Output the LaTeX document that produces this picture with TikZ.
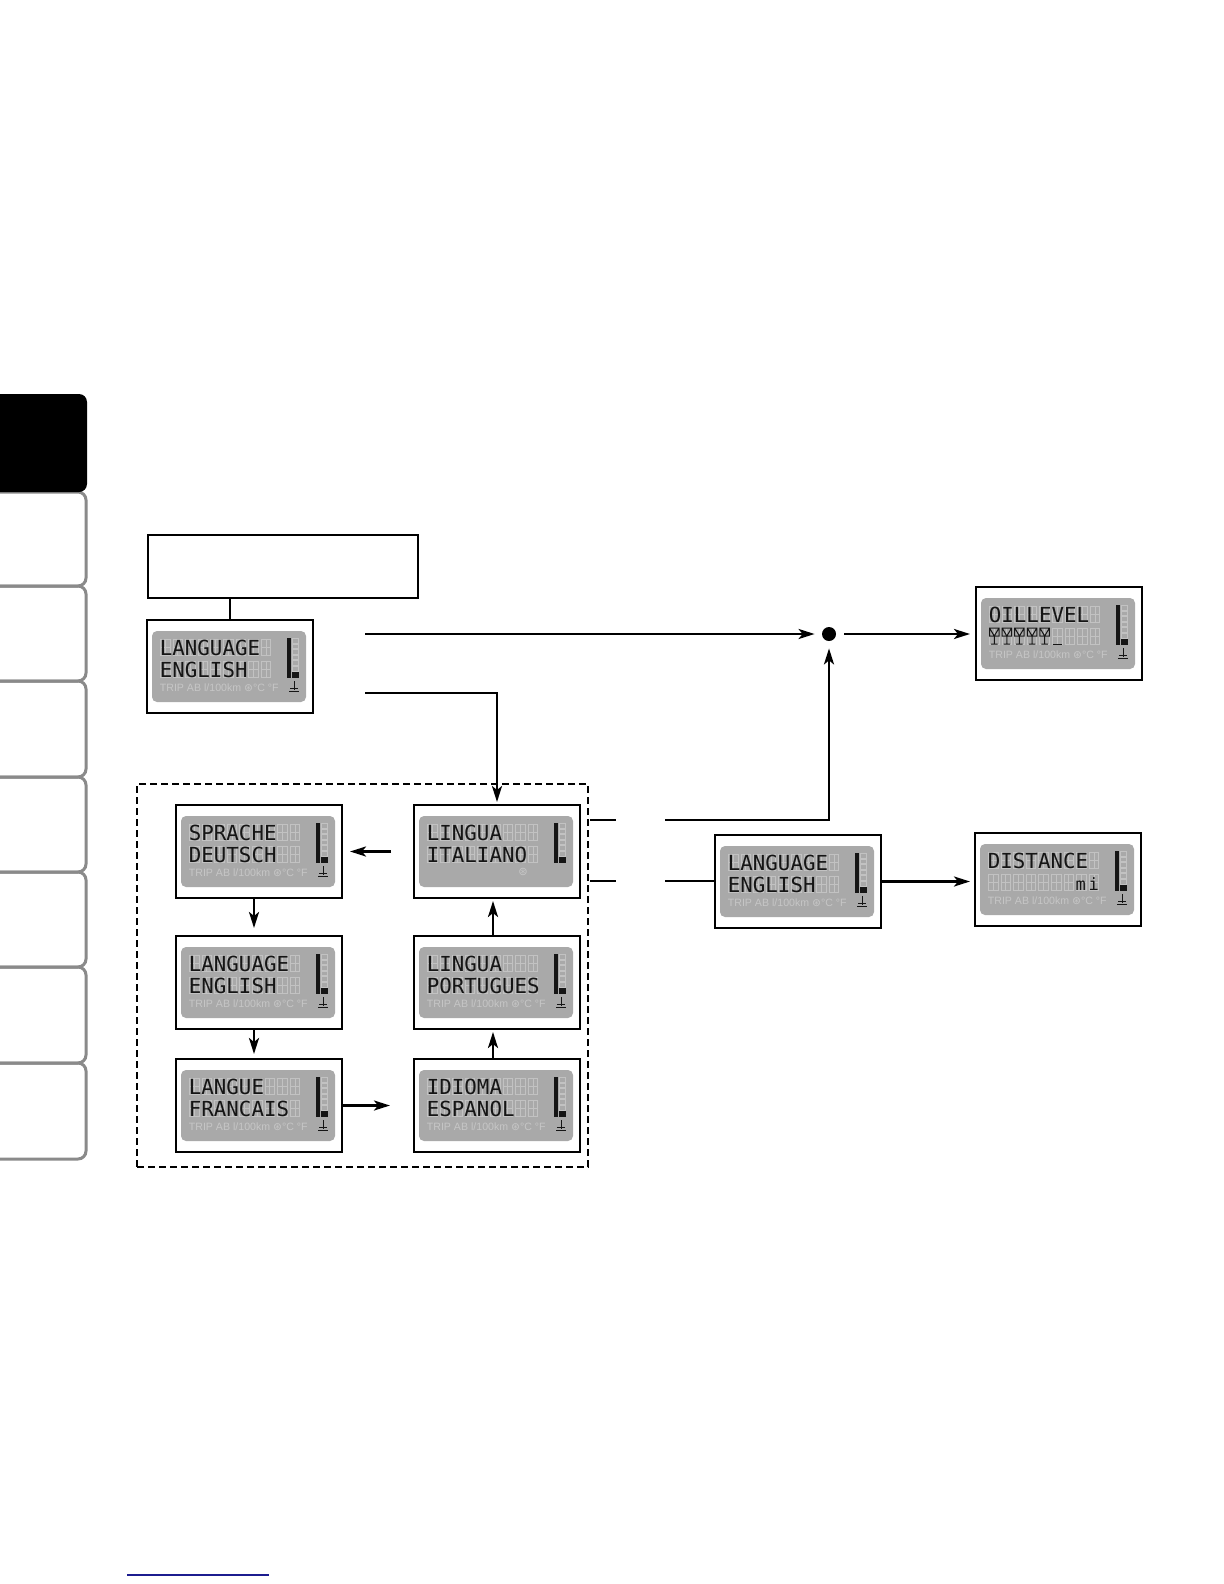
\documentclass[tikz,border=0pt]{standalone}
\usepackage{fontspec}
\usetikzlibrary{arrows.meta}
\newfontfamily\lcdfont{DejaVu Sans Mono}
\newfontfamily\smallfont{Liberation Sans}
\newfontfamily\symfont{DejaVu Sans}
\definecolor{lcdbg}{HTML}{A9A9A9}
\definecolor{ghostc}{HTML}{C2C2C2}
\definecolor{faintc}{HTML}{C6C6C6}
\definecolor{darkc}{HTML}{151515}
\definecolor{tabgray}{HTML}{8A8A8A}
\definecolor{linkblue}{HTML}{1C1C8F}
\tikzset{
 lcdframe/.style={draw, line width=0.85pt, minimum width=83pt, minimum height=46.5pt, inner sep=0pt, outer sep=0pt},
 ghost/.style={draw=ghostc, line width=0.45pt},
 lcdtext/.style={anchor=base west, inner sep=0pt, text=darkc, font=\lcdfont\fontsize{10.4}{10.4}\selectfont},
 faint/.style={inner sep=0pt, text=faintc, font=\smallfont\fontsize{5.3}{5.3}\selectfont},
 conn/.style={line width=1.25pt},
 arr/.style={conn, -{Stealth[length=8pt, width=5pt, inset=2pt]}},
 tabshape/.style={draw=tabgray, line width=1.5pt, rounded corners=4pt},
 groupframe/.style={draw, dash pattern=on 3.5pt off 2pt, line width=0.9pt, inner sep=0pt, outer sep=0pt}
}
\newcommand\lcd[6]{%
 \begin{scope}[shift={(#2,#3)}]
  \node[lcdframe, anchor=north west] (#1) at (0,0) {};
  \fill[lcdbg, rounded corners=2.5pt] (5,11) rectangle (159,82);
  \foreach \kk in {0,...,8}{\foreach \yy in {19,41}{
    \draw[ghost] ({13.5+12.6*\kk},\yy) rectangle ++(9.5,16);
    \draw[ghost] ({13.5+12.6*\kk},\yy+8) -- ++(9.5,0);
    \draw[ghost] ({18.25+12.6*\kk},\yy) -- ++(0,16);}}
  \node[lcdtext] at (12.5,35) {#4};
  \node[lcdtext] at (12.5,57) {#5};
  \fill[darkc] (140,18) rectangle (144,58);
  \foreach \kk in {0,...,5}{\draw[ghost] (145.5,{18.5+5.6*\kk}) rectangle ++(6,4.6);}
  \fill[darkc] (145,52) rectangle (152,58);
  #6
 \end{scope}}
\newcommand\lcdfoot{%
  \node[faint, anchor=base west] at (12.5,71) {TRIP AB l/100km {\symfont ⊛}°C °F};
  \draw[darkc, line width=0.45pt] (147,61) -- (147,70) (143,68) -- (151,68) (142,71) -- (152,71);}
\newcommand\oilglyph[1]{\draw[darkc, line width=0.5pt] ({13.5+12.6*#1},41) -- ++(9.5,0) -- ++(0,8) -- ++(-9.5,0) -- cycle ({13.5+12.6*#1},41) -- ++(4.75,8) -- ++(4.75,-8) ({18.25+12.6*#1},49) -- ++(0,8) ({15+12.6*#1},57) -- ++(6.5,0);}
\begin{document}
\begin{tikzpicture}[x=0.5pt,y=-0.5pt]
\useasboundingbox (0,0) rectangle (1224,1584);
\fill[white] (0,0) rectangle (1224,1584);
% side tabs
\foreach \ta/\tb in {492/586, 586/681, 681/777, 777/872, 872/967, 967/1063, 1063/1159}
  \draw[tabshape] (-10,\ta) -- (86,\ta) -- (86,\tb) -- (-10,\tb);
\fill[black, rounded corners=4pt] (-10,394) rectangle (87,492);
% boxes
\node[draw, line width=0.85pt, minimum width=135pt, minimum height=31.5pt, anchor=north west, inner sep=0pt] (note) at (147,534) {};
\lcd{main}{147}{620}{LANGUAGE}{ENGLISH}{\lcdfoot}
\lcd{oil}{976}{587}{OILLEVEL}{}{\foreach \kk in {0,...,4}{\oilglyph{\kk}}
  \draw[darkc, line width=0.5pt] (76.5,57) -- ++(9.5,0); \lcdfoot}
\lcd{lang2}{715}{835}{LANGUAGE}{ENGLISH}{\lcdfoot}
\lcd{dist}{975}{833}{DISTANCE}{\hphantom{0000000}{\fontsize{8.5}{8.5}\selectfont m\,i}}{\lcdfoot}
\node[groupframe, minimum width=225.5pt, minimum height=191.5pt, anchor=north west] (grp) at (137,784) {};
\lcd{sprache}{176}{805}{SPRACHE}{DEUTSCH}{\lcdfoot}
\lcd{ital}{414}{805}{LINGUA}{ITALIANO}{\node[faint, font=\symfont\fontsize{5.6}{5.6}\selectfont] at (109,67) {⊛};}
\lcd{eng}{176}{936}{LANGUAGE}{ENGLISH}{\lcdfoot}
\lcd{port}{414}{936}{LINGUA}{PORTUGUES}{\lcdfoot}
\lcd{fra}{176}{1059}{LANGUE}{FRANCAIS}{\lcdfoot}
\lcd{esp}{414}{1059}{IDIOMA}{ESPANOL}{\lcdfoot}
\node[circle, fill, inner sep=0pt, minimum size=7pt] (dot) at (829,634) {};
% connectors
\draw[conn] (main.north) -- (main.north |- note.south);
\coordinate (s1) at (365,634);
\coordinate (s2) at (365,693);
\draw[arr, shorten >=3.5pt] (s1) -- (dot);
\draw[arr, shorten <=4pt, shorten >=3pt] (dot) -- (dot -| oil.west);
\draw[arr, shorten >=1.5pt] (s2) -| (ital.north);
\coordinate (a1) at (590,820); \coordinate (a2) at (616,820); \coordinate (a3) at (665,820);
\coordinate (b1) at (590,881); \coordinate (b2) at (616,881); \coordinate (b3) at (665,881);
\draw[conn] (a1) -- (a2);
\draw[arr, shorten >=3.5pt] (a3) -| (dot);
\draw[conn] (b1) -- (b2);
\draw[conn] (b3) -- (b3 -| lang2.west);
\draw[arr, shorten >=2.5pt] (lang2.east) -- (lang2.east -| dist.west);
\draw[arr] ([xshift=-11.5pt]ital.west) -- ([xshift=4pt]sprache.east);
\draw[arr] ([xshift=-2.5pt]sprache.south) -- ([xshift=-2.5pt, yshift=4pt]eng.north);
\draw[arr] ([xshift=-2.5pt]eng.south) -- ([xshift=-2.5pt, yshift=2.5pt]fra.north);
\draw[arr] (fra.east) -- ([xshift=-12pt]esp.west);
\draw[arr] ([xshift=-2pt]esp.north) -- ([xshift=-2pt, yshift=-1.5pt]port.south);
\draw[arr] ([xshift=-2pt]port.north) -- ([xshift=-2pt, yshift=-1.5pt]ital.south);
\draw[linkblue, line width=0.8pt] (127,1575) -- (269,1575);
\end{tikzpicture}
\end{document}
